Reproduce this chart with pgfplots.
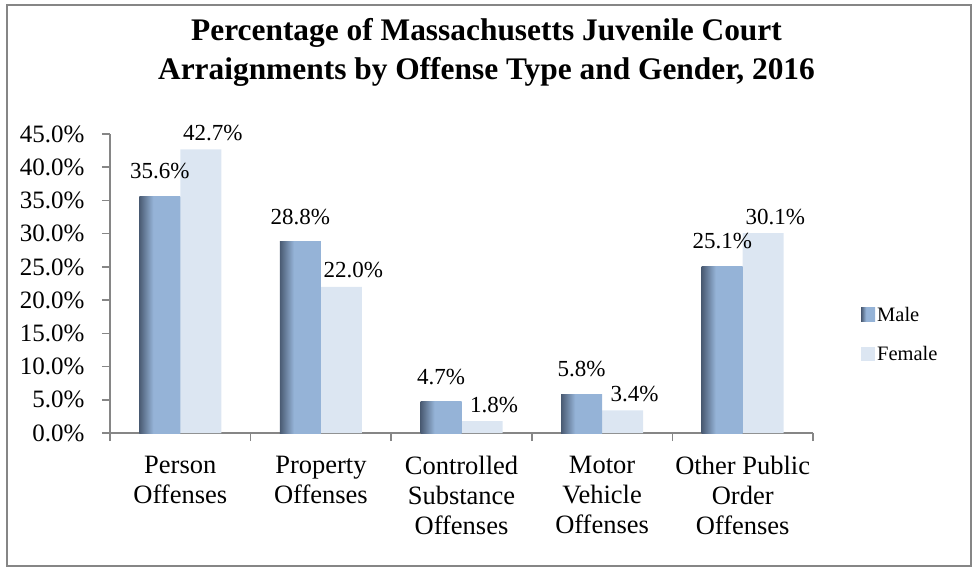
\documentclass[border=0pt]{standalone}
\usepackage{pgfplots}
\pgfplotsset{compat=1.18}
\usepackage{fontspec}
\setmainfont{Liberation Serif}
\definecolor{mdark}{HTML}{4A5B73}
\definecolor{mlight}{HTML}{95B3D7}
\definecolor{fcol}{HTML}{DCE6F2}
\definecolor{axgray}{HTML}{868686}
\pgfdeclarehorizontalshading{maleshade}{100bp}{color(0bp)=(mdark); color(25bp)=(mdark); color(42bp)=(mlight); color(100bp)=(mlight)}
\begin{document}
\begin{tikzpicture}[x=1pt,y=1pt]
\path (0,0) rectangle (973,568);
\draw[axgray, line width=2pt] (7,2) rectangle (971,563);
\node[font=\fontsize{31.4}{39}\selectfont\bfseries, align=center] at (486.5,516) {Percentage of Massachusetts Juvenile Court\\Arraignments by Offense Type and Gender, 2016};
\begin{axis}[
  at={(110pt,135pt)}, anchor=south west,
  scale only axis, width=703pt, height=299pt,
  xmin=0, xmax=5, ymin=0, ymax=45,
  axis x line*=bottom, axis y line*=left,
  axis line style={axgray, line width=1.5pt, -},
  ytick={0,5,...,45},
  yticklabels={0.0\%,5.0\%,10.0\%,15.0\%,20.0\%,25.0\%,30.0\%,35.0\%,40.0\%,45.0\%},
  xtick={0.5,1.5,2.5,3.5,4.5},
  xticklabels={{Person\\Offenses},{Property\\Offenses},{Controlled\\Substance\\Offenses},{Motor\\Vehicle\\Offenses},{Other Public\\Order\\Offenses}},
  minor xtick={0,1,2,3,4,5},
  tick align=outside, major tick length=8pt, minor tick length=8pt,
  major x tick style={draw=none},
  minor x tick style={axgray, line width=1.5pt},
  ytick style={axgray, line width=1.5pt},
  yticklabel style={font=\fontsize{25}{29}\selectfont, black, xshift=-14pt},
  xticklabel style={font=\fontsize{26.5}{30}\selectfont, black, align=center, yshift=-12pt},
  legend style={at={(1.064,0.33)}, anchor=west, draw=none, fill=none, font=\fontsize{20.5}{25}\selectfont, row sep=19pt, nodes={inner xsep=2pt}},
  legend cell align=left,
  legend image code/.code={\path[#1] (0pt,-7pt) rectangle (14pt,7pt);},
  nodes near coords={\pgfmathprintnumber[fixed,fixed zerofill,precision=1,assume math mode=true]{\pgfplotspointmeta}\%},
  every node near coord/.append style={font=\fontsize{23}{27}\selectfont, black, anchor=base},
  male/.style={ybar, bar width=41pt, bar shift=-20.5pt, draw=none, shading=maleshade, every node near coord/.append style={xshift=-20.5pt, yshift=17.5pt}},
]
\addplot[male] coordinates {(0.5,35.6)};
\addplot[ybar, bar width=41pt, bar shift=20.5pt, draw=none, fill=fcol, every node near coord/.append style={xshift=32.5pt, yshift=9pt}] coordinates {(0.5,42.7) (1.5,22.0) (2.5,1.8) (3.5,3.4) (4.5,30.1)};
\addplot[male, forget plot] coordinates {(1.5,28.8)};
\addplot[male, forget plot] coordinates {(2.5,4.7)};
\addplot[male, forget plot] coordinates {(3.5,5.8)};
\addplot[male, forget plot] coordinates {(4.5,25.1)};
\legend{Male, Female}
\end{axis}
\end{tikzpicture}
\end{document}
